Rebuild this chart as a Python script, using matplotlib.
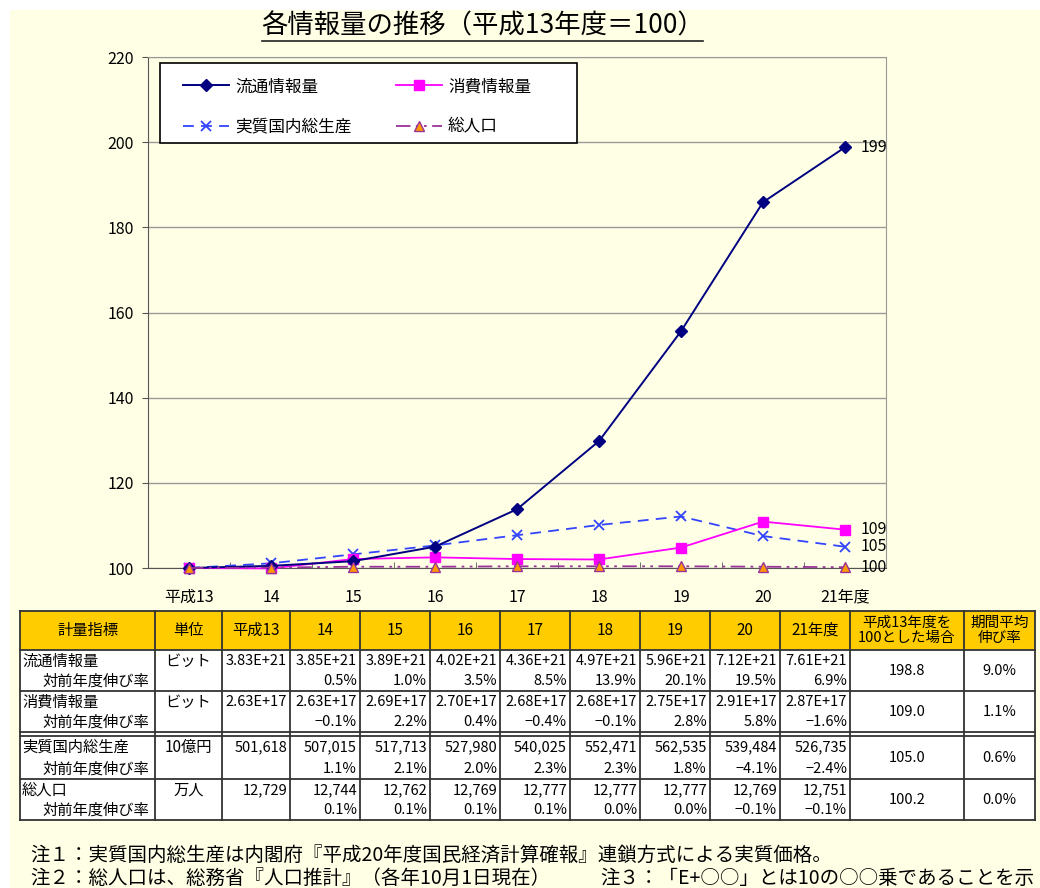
import matplotlib.pyplot as plt
from matplotlib.patches import Rectangle

plt.rcParams['font.family'] = ['Noto Sans CJK JP', 'DejaVu Sans']

# 指数（平成13年度＝100）
years = ['平成13', '14', '15', '16', '17', '18', '19', '20', '21年度']
flow_idx = [100.0, 100.5, 101.6, 105.0, 113.8, 129.8, 155.6, 185.9, 198.8]
cons_idx = [100.0, 99.9, 102.1, 102.5, 102.1, 102.0, 104.8, 110.9, 109.0]
gdp_idx = [100.0, 101.1, 103.2, 105.3, 107.7, 110.1, 112.1, 107.5, 105.0]
pop_idx = [100.0, 100.1, 100.3, 100.3, 100.4, 100.4, 100.4, 100.3, 100.2]
series_names = ['流通情報量', '消費情報量', '実質国内総生産', '総人口']
end_labels = ['199', '109', '105', '100']

# 表
table_header = ['計量指標', '単位', '平成13', '14', '15', '16', '17', '18', '19', '20',
                '21年度', '平成13年度を\n100とした場合', '期間平均\n伸び率']
units = ['ビット', 'ビット', '10億円', '万人']
flow_vals = ['3.83E+21', '3.85E+21', '3.89E+21', '4.02E+21', '4.36E+21', '4.97E+21',
             '5.96E+21', '7.12E+21', '7.61E+21']
flow_rates = ['', '0.5%', '1.0%', '3.5%', '8.5%', '13.9%', '20.1%', '19.5%', '6.9%']
cons_vals = ['2.63E+17', '2.63E+17', '2.69E+17', '2.70E+17', '2.68E+17', '2.68E+17',
             '2.75E+17', '2.91E+17', '2.87E+17']
cons_rates = ['', '−0.1%', '2.2%', '0.4%', '−0.4%', '−0.1%', '2.8%', '5.8%', '−1.6%']
gdp_vals = ['501,618', '507,015', '517,713', '527,980', '540,025', '552,471',
            '562,535', '539,484', '526,735']
gdp_rates = ['', '1.1%', '2.1%', '2.0%', '2.3%', '2.3%', '1.8%', '−4.1%', '−2.4%']
pop_vals = ['12,729', '12,744', '12,762', '12,769', '12,777', '12,777',
            '12,777', '12,769', '12,751']
pop_rates = ['', '0.1%', '0.1%', '0.1%', '0.1%', '0.0%', '0.0%', '−0.1%', '−0.1%']
base100 = ['198.8', '109.0', '105.0', '100.2']
avg_growth = ['9.0%', '1.1%', '0.6%', '0.0%']

notes1 = '注１：実質国内総生産は内閣府『平成20年度国民経済計算確報』連鎖方式による実質価格。'
notes2 = '注２：総人口は、総務省『人口推計』（各年10月1日現在）'
notes3 = '注３：「E+○○」とは10の○○乗であることを示'

W, H = 1040, 888
fig = plt.figure(figsize=(W / 100, H / 100), dpi=100)

# pixel-space layer for background, title, table and notes
bg = fig.add_axes([0, 0, 1, 1])
bg.set_xlim(0, W)
bg.set_ylim(H, 0)
bg.axis('off')
bg.add_patch(Rectangle((10, 10), W - 10, H - 10, facecolor='#FFFFE6', edgecolor='none'))

bg.text(483, 26, '各情報量の推移（平成13年度＝100）', ha='center', va='center', fontsize=19)
bg.plot([262, 703], [41, 41], color='#222222', lw=1.2)

# table grid
col_x = [20, 155, 222, 290, 360, 430, 500, 570, 640, 710, 780, 850, 964, 1035]
head_top, head_bot = 611, 650
group_top = [650, 691, 736, 779]
group_bot = [691, 732, 779, 820]

bg.add_patch(Rectangle((col_x[0], head_top), col_x[-1] - col_x[0], head_bot - head_top,
                       facecolor='#FFCC00', edgecolor='none'))
bg.add_patch(Rectangle((col_x[0], head_bot), col_x[-1] - col_x[0], 820 - head_bot,
                       facecolor='white', edgecolor='none'))
for y in [head_top, head_bot, 691, 732, 736, 779, 820]:
    bg.plot([col_x[0], col_x[-1]], [y, y], color='#333333', lw=1.3)
for x in col_x:
    bg.plot([x, x], [head_top, 820], color='#333333', lw=1.3)

for i, lab in enumerate(table_header):
    cx = (col_x[i] + col_x[i + 1]) / 2
    fs = 10.5 if '\n' in lab else 11
    bg.text(cx, (head_top + head_bot) / 2, lab, ha='center', va='center',
            fontsize=fs, linespacing=1.05)

rows = [(flow_vals, flow_rates), (cons_vals, cons_rates),
        (gdp_vals, gdp_rates), (pop_vals, pop_rates)]
for g, (vals, rates) in enumerate(rows):
    top, bot = group_top[g], group_bot[g]
    y1, y2 = top + 11, bot - 10
    bg.text(22, y1, series_names[g], ha='left', va='center', fontsize=11)
    bg.text(42, y2, '対前年度伸び率', ha='left', va='center', fontsize=11)
    bg.text((col_x[1] + col_x[2]) / 2, y1, units[g], ha='center', va='center', fontsize=11)
    for j in range(9):
        xr = col_x[j + 3] - 3
        bg.text(xr, y1, vals[j], ha='right', va='center', fontsize=10.5)
        bg.text(xr, y2, rates[j], ha='right', va='center', fontsize=10.5)
    bg.text((col_x[11] + col_x[12]) / 2, (top + bot) / 2, base100[g],
            ha='center', va='center', fontsize=10.5)
    bg.text((col_x[12] + col_x[13]) / 2, (top + bot) / 2, avg_growth[g],
            ha='center', va='center', fontsize=10.5)

bg.text(30, 855, notes1, ha='left', va='center', fontsize=14)
bg.text(30, 878, notes2, ha='left', va='center', fontsize=14)
bg.text(600, 878, notes3, ha='left', va='center', fontsize=14)

# line chart
left, right, top, bottom = 148, 886, 57, 568
ax = fig.add_axes([left / W, 1 - bottom / H, (right - left) / W, (bottom - top) / H])
ax.patch.set_visible(False)
x = list(range(len(years)))

l_flow, = ax.plot(x, flow_idx, color='#000080', lw=1.4, marker='D', ms=6,
                  clip_on=False, zorder=5)
l_cons, = ax.plot(x, cons_idx, color='#FF00FF', lw=1.3, marker='s', ms=7.5,
                  clip_on=False, zorder=4)
l_gdp, = ax.plot(x, gdp_idx, color='#3344FF', lw=1.3, ls=(0, (6, 4)), marker='x', ms=7,
                 mew=1.3, clip_on=False, zorder=3)
l_pop, = ax.plot(x, pop_idx, color='#993399', lw=1.3, ls=(0, (8, 3, 1.5, 3, 1.5, 3)),
                 marker='^', ms=6.5, mfc='#FF9900', mec='#993399', clip_on=False, zorder=6)

ax.set_xlim(-0.5, len(years) - 0.5)
ax.set_ylim(100, 220)
ax.set_yticks(range(100, 221, 20))
ax.set_xticks(x)
ax.set_xticklabels(years, fontsize=11.5)
ax.set_xticks([i - 0.5 for i in range(len(years) + 1)], minor=True)
ax.tick_params(axis='x', which='major', length=0, pad=15)
ax.tick_params(axis='x', which='minor', direction='in', length=4, color='#555555')
ax.tick_params(axis='y', labelsize=11.5, length=4, color='#555555', pad=6)
ax.yaxis.grid(True, color='#999999', lw=1)
ax.set_axisbelow(True)
for s in ['left', 'bottom']:
    ax.spines[s].set_color('#555555')
for s in ['top', 'right']:
    ax.spines[s].set_color('#999999')

for line, lab in zip([flow_idx, cons_idx, gdp_idx, pop_idx], end_labels):
    ax.annotate(lab, (x[-1], line[-1]), xytext=(11, 0), textcoords='offset points',
                ha='left', va='center', fontsize=11.5, annotation_clip=False)

# legend box drawn in pixel coordinates, legend entries placed inside it
ax.add_patch(Rectangle((160, 63), 417, 80, transform=bg.transData, facecolor='white',
                       edgecolor='black', lw=1.2, zorder=4.5, clip_on=False))
ax.legend([l_flow, l_gdp, l_cons, l_pop],
          [series_names[0], series_names[2], series_names[1], series_names[3]],
          ncol=2, loc='upper left', bbox_to_anchor=(170, 65), bbox_transform=bg.transData,
          fontsize=12, frameon=False, handlelength=2.75, labelspacing=1.4,
          columnspacing=2.7, borderpad=0.8, handletextpad=0.35, borderaxespad=0)

fig.savefig('out.png', dpi=100)
